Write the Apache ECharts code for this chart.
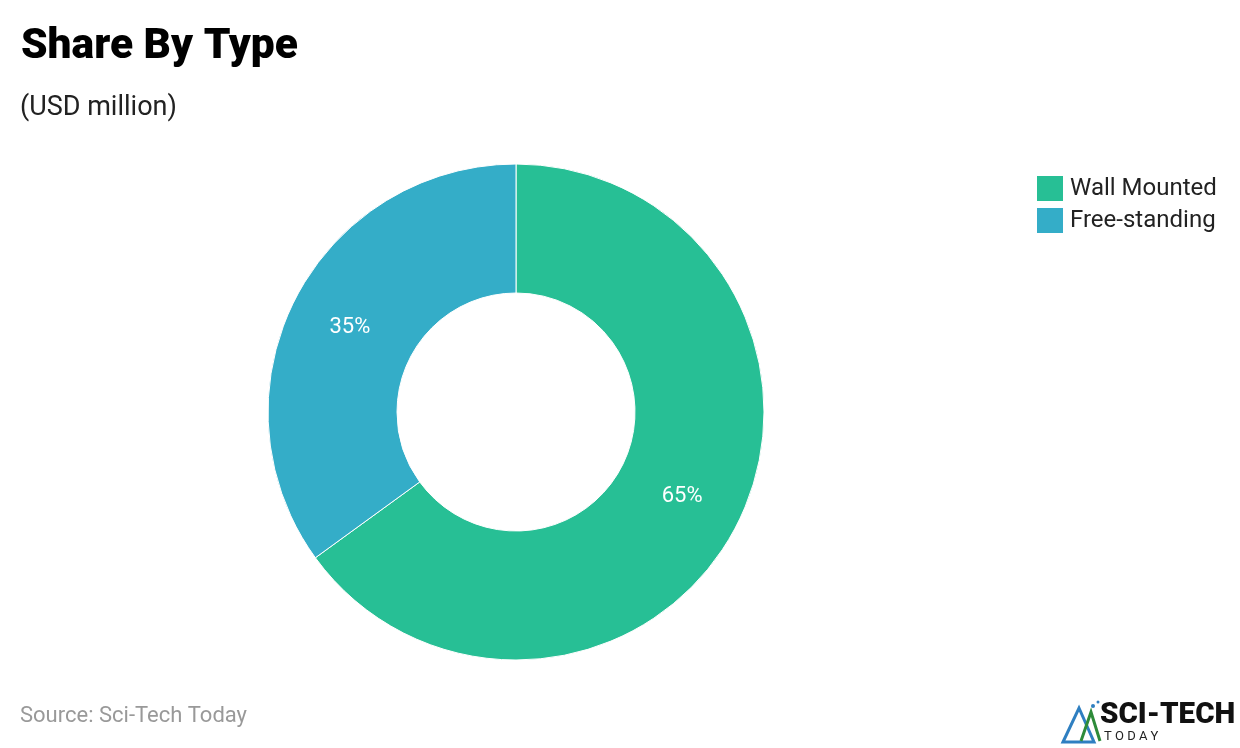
<!DOCTYPE html>
<html>
<head>
<meta charset="utf-8">
<title>Share By Type</title>
<script src="https://cdn.jsdelivr.net/npm/echarts@6/dist/echarts.min.js"></script>
<style>
html,body{margin:0;padding:0;background:#fff;}
#chart{width:1240px;height:748px;}
</style>
</head>
<body>
<div id="chart"></div>
<script>
// data
var types = ['Wall Mounted', 'Free-standing'];
var shares = [65, 35];
var colors = ['#27bf95', '#34adc8'];

var myChart = echarts.init(document.getElementById('chart'));

var pieData = [];
for (var i = 0; i < types.length; i++) {
    pieData.push({ name: types[i], value: shares[i], itemStyle: { color: colors[i] } });
}

var option = {
    backgroundColor: '#fff',
    textStyle: { fontFamily: 'Roboto' },
    title: [
        {
            text: 'Share By Type',
            left: 21, top: 26, padding: 0,
            textStyle: { fontSize: 42.5, fontWeight: 900, color: '#000', fontFamily: 'Roboto' }
        },
        {
            text: '(USD million)',
            left: 20, top: 95, padding: 0,
            textStyle: { fontSize: 27, fontWeight: 'normal', color: '#222', fontFamily: 'Roboto' }
        },
        {
            text: 'Source: Sci-Tech Today',
            left: 20, top: 705, padding: 0,
            textStyle: { fontSize: 22, fontWeight: 'normal', color: '#999', fontFamily: 'Roboto' }
        }
    ],
    legend: {
        orient: 'vertical',
        left: 1035, top: 174, padding: 0,
        itemWidth: 28, itemHeight: 27,
        itemGap: 3,
        icon: 'rect',
        textStyle: { fontSize: 24, color: '#222', fontFamily: 'Roboto', lineHeight: 27, padding: [0, 0, 0, 1] },
        data: types
    },
    series: [
        {
            type: 'pie',
            center: [516, 412],
            radius: [119, 248],
            startAngle: 90,
            clockwise: true,
            avoidLabelOverlap: false,
            itemStyle: { borderColor: '#fff', borderWidth: 1 },
            label: {
                position: 'inside',
                formatter: '{d}%',
                color: '#fff',
                fontSize: 22,
                fontFamily: 'Roboto'
            },
            labelLine: { show: false },
            emphasis: { disabled: true },
            data: pieData
        }
    ],
    graphic: [
        // logo
        {
            type: 'polygon',
            shape: { points: [[1063, 742], [1079, 708], [1094, 742]] },
            style: { fill: 'none', stroke: '#2f7fc1', lineWidth: 3 }
        },
        {
            type: 'polyline',
            shape: { points: [[1081, 741], [1091, 712], [1100, 741]] },
            style: { fill: 'none', stroke: '#2e8b3a', lineWidth: 3 }
        },
        { type: 'circle', shape: { cx: 1093, cy: 706, r: 2 }, style: { fill: '#2f7fc1' } },
        { type: 'circle', shape: { cx: 1098, cy: 702, r: 1.5 }, style: { fill: '#2f7fc1' } },
        {
            type: 'text', left: 1100, top: 701,
            style: { text: 'SCI-TECH', fontSize: 29.5, fontWeight: 900, fill: '#111', fontFamily: 'Roboto' }
        },
        {
            type: 'text', left: 1104, top: 730,
            style: { text: 'T O D A Y', fontSize: 13, fill: '#222', fontFamily: 'Roboto' }
        }
    ]
};
myChart.setOption(option);
</script>
</body>
</html>
